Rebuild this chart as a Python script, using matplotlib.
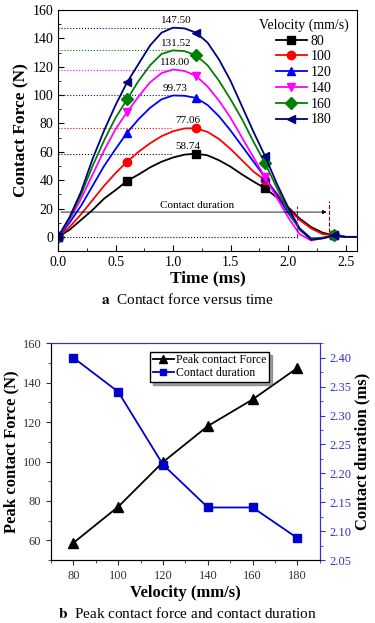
# Contact force curves and peak force / contact duration vs velocity
import matplotlib
matplotlib.use("Agg")
from matplotlib import pyplot as plt
from matplotlib.ticker import AutoMinorLocator

plt.rcParams['font.family'] = ['Liberation Serif', 'DejaVu Serif']
plt.rcParams['mathtext.fontset'] = 'stix'

# time grid of the force curves (ms)
time = [0.0, 0.1, 0.2, 0.3, 0.4, 0.5, 0.6, 0.7, 0.8, 0.9, 1.0, 1.1, 1.2,
        1.3, 1.4, 1.5, 1.6, 1.7, 1.8, 1.9, 2.0, 2.1, 2.2, 2.3, 2.4, 2.5, 2.6]

force_80 = [0, 5, 12, 19, 27, 33, 39.5, 44, 49, 53, 56, 58, 58.7,
            57.5, 54, 49.5, 44, 39, 34.3, 28, 21, 13, 7, 3, 1, 0, 0]
force_100 = [0, 7, 16, 26, 36, 45, 53, 60, 66, 71, 74.5, 76.5, 76.6,
             74, 69, 62, 54, 46, 40, 31, 20, 12, 6, 2, 1, 0, 0]
force_120 = [0, 10, 22, 36, 50, 62, 73.5, 83, 91, 97, 99.7, 99.5, 98,
             93, 85, 75, 64, 53, 42, 30, 17, 6, -1, -1, 1, 0, 0]
force_140 = [0, 12, 27, 44, 61, 76, 88, 99, 109, 115.5, 118, 117, 113.5,
             106, 96, 84, 70, 56, 42, 28, 14, 2, -2.5, -1, 1, 0, 0]
force_160 = [0, 13, 30, 50, 68, 84, 97, 110, 121, 129, 131.5, 131, 128,
             121, 110, 97, 83, 67, 52, 35, 19, 5, -1.5, -0.5, 1, 0, 0]
force_180 = [0, 14, 32, 55, 75, 93, 109, 122, 135, 144, 147.5, 147, 144,
             137, 125, 110, 92, 74, 57, 38, 21, 6, -2, -1, 1, 0, 0]

velocities = [80, 100, 120, 140, 160, 180]
peak_force = [58.74, 77.06, 99.73, 118.00, 131.52, 147.50]
peak_labels = ['58.74', '77.06', '99.73', '118.00', '131.52', '147.50']
contact_duration = [2.40, 2.341, 2.215, 2.141, 2.141, 2.088]

curves = [force_80, force_100, force_120, force_140, force_160, force_180]
colors = ['black', 'red', 'blue', 'magenta', 'green', 'navy']
markers = ['s', 'o', '^', 'v', 'D', '<']
label_x = [1.13, 1.13, 1.02, 1.02, 1.03, 1.03]

fig = plt.figure(figsize=(3.75, 6.23), dpi=100)

# ---- panel a ----
ax = fig.add_axes([0.155, 0.597, 0.797, 0.387])
for f, c, m, v, pk, lab, lx in zip(curves, colors, markers, velocities,
                                   peak_force, peak_labels, label_x):
    ax.plot(time, f, color=c, marker=m, markevery=[0, 6, 12, 18, 24],
            markersize=6, lw=1.3, label=str(v))
    ax.hlines(pk, 0, 0.98, colors=c, linestyles=':', lw=0.8)
    ax.text(lx, pk + 2, lab, ha='center', va='bottom', fontsize=8)

ax.hlines(0, 0, 2.08, colors='black', linestyles=':', lw=0.8)
ax.vlines(2.08, -1, 22, colors='darkviolet', linestyles='--', lw=0.8)
ax.vlines(2.36, -1, 25, colors='darkred', linestyles='--', lw=0.8)
ax.annotate('', xy=(2.36, 17.5), xytext=(0, 17.5),
            arrowprops=dict(arrowstyle='-|>', color='black', lw=0.6,
                            mutation_scale=6))
ax.text(1.21, 19, 'Contact duration', ha='center', va='bottom', fontsize=8)

ax.set_xlim(0, 2.6)
ax.set_ylim(-10, 160)
ax.set_xticks([0, 0.5, 1.0, 1.5, 2.0, 2.5])
ax.set_xticklabels(['0.0', '0.5', '1.0', '1.5', '2.0', '2.5'])
ax.set_yticks(range(0, 161, 20))
ax.xaxis.set_minor_locator(AutoMinorLocator(2))
ax.yaxis.set_minor_locator(AutoMinorLocator(2))
ax.tick_params(which='both', direction='in', labelsize=10)
ax.tick_params(which='major', length=4)
ax.tick_params(which='minor', length=2)
ax.set_xlabel('Time (ms)', fontsize=12.5, fontweight='bold', labelpad=1)
ax.set_ylabel('Contact Force (N)', fontsize=12.5, fontweight='bold', labelpad=2)
ax.legend(title='Velocity (mm/s)', loc='upper right', frameon=False,
          fontsize=10, title_fontsize=10, handlelength=2.2, labelspacing=0.2,
          borderaxespad=0.2, handletextpad=0.3)

fig.text(0.5, 0.52, r'$\mathbf{a}$  Contact force versus time',
         ha='center', va='center', fontsize=11)

# ---- panel b ----
ax2 = fig.add_axes([0.136, 0.101, 0.717, 0.348])
ax3 = ax2.twinx()
l1, = ax2.plot(velocities, peak_force, color='black', marker='^',
               markersize=7, lw=1.3, label='Peak contact Force')
l2, = ax3.plot(velocities, contact_duration, color='#0000cc', marker='s',
               markersize=6, lw=1.3, label='Contact duration')

ax2.set_xlim(70, 190)
ax2.set_ylim(50, 160)
ax2.set_xticks(velocities)
ax2.set_yticks(range(60, 161, 20))
ax2.yaxis.set_minor_locator(AutoMinorLocator(2))
ax2.xaxis.set_minor_locator(AutoMinorLocator(2))
ax2.tick_params(which='both', direction='out', labelsize=9, colors='#333333')
ax2.tick_params(which='minor', length=2)
ax3.set_ylim(2.05, 2.425)
ax3.set_yticks([2.05, 2.10, 2.15, 2.20, 2.25, 2.30, 2.35, 2.40])
ax3.set_yticklabels(['2.05', '2.10', '2.15', '2.20', '2.25', '2.30', '2.35', '2.40'])
ax3.yaxis.set_minor_locator(AutoMinorLocator(2))
ax3.tick_params(which='both', direction='out', labelsize=9, colors='#3333cc')
ax3.tick_params(which='minor', length=2)
for side in ['right', 'top']:
    ax3.spines[side].set_color('#3333cc')
    ax2.spines[side].set_color('#3333cc')

ax2.set_xlabel('Velocity (mm/s)', fontsize=12, fontweight='bold', labelpad=2)
ax2.set_ylabel('Peak contact Force (N)', fontsize=12, fontweight='bold', labelpad=2)
ax3.set_ylabel('Contact duration (ms)', fontsize=12, fontweight='bold', labelpad=2)

ax3.legend([l1, l2], ['Peak contact Force', 'Contact duration'],
           loc='upper left', bbox_to_anchor=(0.37, 0.96), fontsize=8.5,
           shadow=True, fancybox=False, framealpha=1, edgecolor='black',
           handlelength=1.8, labelspacing=0.1, borderpad=0.2,
           handletextpad=0.2, borderaxespad=0, markerscale=0.8)

fig.text(0.5, 0.015, r'$\mathbf{b}$  Peak contact force and contact duration',
         ha='center', va='center', fontsize=11)

fig.savefig('out.png', dpi=100)
